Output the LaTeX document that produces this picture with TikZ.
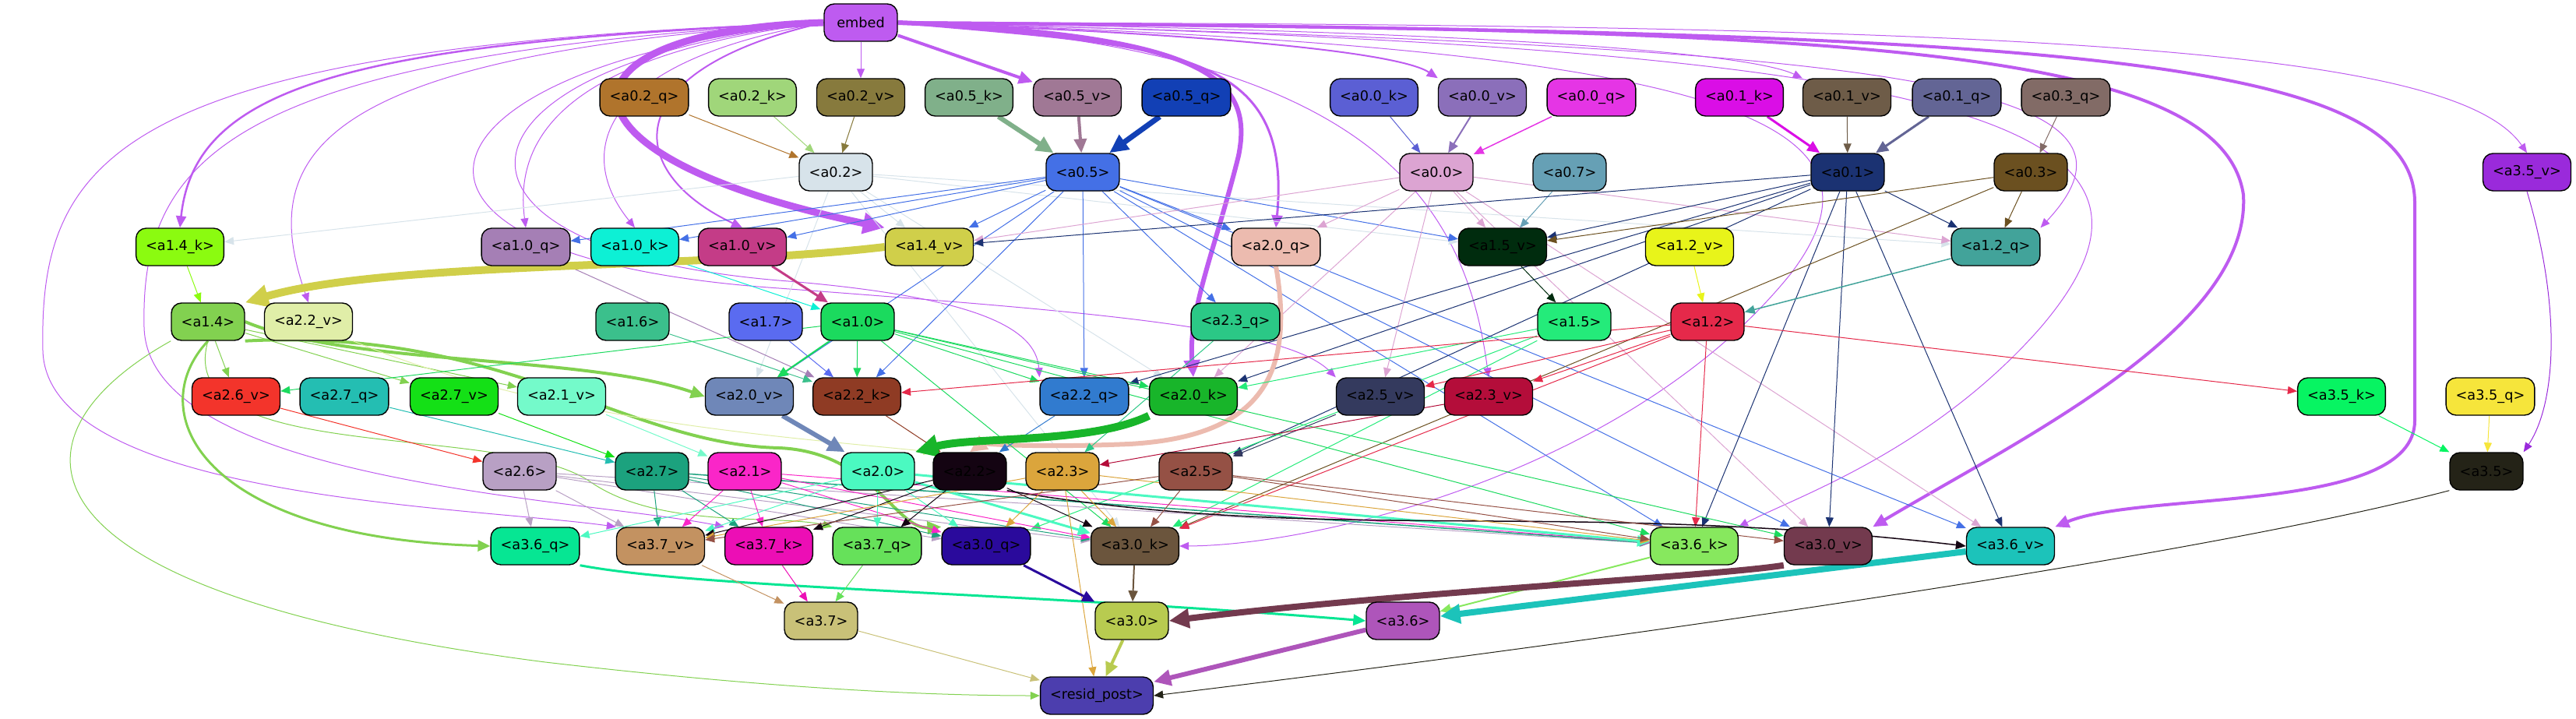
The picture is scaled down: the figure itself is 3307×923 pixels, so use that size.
\documentclass[tikz,border=0pt]{standalone}
\usepackage{fontspec}
\setmainfont{DejaVu Sans}
\usetikzlibrary{arrows.meta}

\pgfdeclarelayer{bg}
\pgfsetlayers{bg,main}

% node colours
\definecolor{cemb}{HTML}{BE5BF0}
\definecolor{ca02q}{HTML}{B0742C}
\definecolor{ca02k}{HTML}{A0D67A}
\definecolor{ca02v}{HTML}{877A3D}
\definecolor{ca05k}{HTML}{80B08A}
\definecolor{ca05v}{HTML}{A07895}
\definecolor{ca05q}{HTML}{1240B5}
\definecolor{ca00k}{HTML}{5B5FD4}
\definecolor{ca00v}{HTML}{8B6FBA}
\definecolor{ca00q}{HTML}{E535E5}
\definecolor{ca01k}{HTML}{DA0EE6}
\definecolor{ca01v}{HTML}{6E5C48}
\definecolor{ca01q}{HTML}{636595}
\definecolor{ca03q}{HTML}{826B66}
\definecolor{ca02}{HTML}{D7E3EA}
\definecolor{ca05}{HTML}{4470E6}
\definecolor{ca00}{HTML}{DCA4D2}
\definecolor{ca07}{HTML}{66A0B5}
\definecolor{ca01}{HTML}{1B3272}
\definecolor{ca03}{HTML}{6B5020}
\definecolor{ca35v}{HTML}{9A2ADB}
\definecolor{ca14k}{HTML}{8BFB10}
\definecolor{ca10q}{HTML}{A57FB5}
\definecolor{ca10k}{HTML}{0DF0D5}
\definecolor{ca10v}{HTML}{C43C87}
\definecolor{ca14v}{HTML}{D0CF4A}
\definecolor{ca20q}{HTML}{ECBBAF}
\definecolor{ca15v}{HTML}{002C0E}
\definecolor{ca12v}{HTML}{E8F41A}
\definecolor{ca12q}{HTML}{42A39A}
\definecolor{ca14}{HTML}{82D150}
\definecolor{ca22v}{HTML}{E0EEA8}
\definecolor{ca16}{HTML}{3BC08C}
\definecolor{ca17}{HTML}{5A6BF0}
\definecolor{ca10}{HTML}{1BDA5E}
\definecolor{ca23q}{HTML}{2BC886}
\definecolor{ca15}{HTML}{24EB7A}
\definecolor{ca12}{HTML}{E5294A}
\definecolor{ca26v}{HTML}{F3342B}
\definecolor{ca27q}{HTML}{24BEB2}
\definecolor{ca27v}{HTML}{14E016}
\definecolor{ca21v}{HTML}{74FACA}
\definecolor{ca20v}{HTML}{6F87B8}
\definecolor{ca22k}{HTML}{8F3B24}
\definecolor{ca22q}{HTML}{317BCF}
\definecolor{ca20k}{HTML}{18B52A}
\definecolor{ca25v}{HTML}{343A5E}
\definecolor{ca23v}{HTML}{B40D3A}
\definecolor{ca35k}{HTML}{07F462}
\definecolor{ca35q}{HTML}{F6E53B}
\definecolor{ca26}{HTML}{B8A0C4}
\definecolor{ca27}{HTML}{1CA27E}
\definecolor{ca21}{HTML}{FA26C8}
\definecolor{ca20}{HTML}{4BF9C1}
\definecolor{ca22}{HTML}{140412}
\definecolor{ca23}{HTML}{DBA53C}
\definecolor{ca25}{HTML}{955145}
\definecolor{ca35}{HTML}{242317}
\definecolor{ca36q}{HTML}{06E693}
\definecolor{ca37v}{HTML}{C39261}
\definecolor{ca37k}{HTML}{EC0EB5}
\definecolor{ca37q}{HTML}{66E15A}
\definecolor{ca30q}{HTML}{2A0A9C}
\definecolor{ca30k}{HTML}{6B553D}
\definecolor{ca36k}{HTML}{87E85E}
\definecolor{ca30v}{HTML}{733A4E}
\definecolor{ca36v}{HTML}{1CC3BA}
\definecolor{ca37}{HTML}{C9C178}
\definecolor{ca30}{HTML}{B8CB50}
\definecolor{ca36}{HTML}{AE55BA}
\definecolor{cres}{HTML}{4C3EAE}

\begin{document}
\begin{tikzpicture}[x=1pt,y=-1pt,
  box/.style={draw=black,line width=1.4pt,rounded corners=13pt,minimum width=94pt,
    minimum height=48pt,inner xsep=12.5pt,inner ysep=0pt,font=\fontsize{17.7}{20}\selectfont},
  e/.style={line width=#1,-{Triangle[length=10pt 2,width=8pt 2]}},
  e/.default=1pt]

\useasboundingbox (0,0) rectangle (3307,923);

%---------------- Nodes, rank by rank ----------------
% rank 0
\node[box,fill=cemb] (emb) at (1105,29) {embed};

% rank 1
\node[box,fill=ca02q] (a02q) at (827,125) {<a0.2\_q>};
\node[box,fill=ca02k] (a02k) at (966,125) {<a0.2\_k>};
\node[box,fill=ca02v] (a02v) at (1105,125) {<a0.2\_v>};
\node[box,fill=ca05k] (a05k) at (1244,125) {<a0.5\_k>};
\node[box,fill=ca05v] (a05v) at (1383,125) {<a0.5\_v>};
\node[box,fill=ca05q] (a05q) at (1523,125) {<a0.5\_q>};
\node[box,fill=ca00k] (a00k) at (1764,125) {<a0.0\_k>};
\node[box,fill=ca00v] (a00v) at (1903,125) {<a0.0\_v>};
\node[box,fill=ca00q] (a00q) at (2043,125) {<a0.0\_q>};
\node[box,fill=ca01k] (a01k) at (2233,125) {<a0.1\_k>};
\node[box,fill=ca01v] (a01v) at (2371,125) {<a0.1\_v>};
\node[box,fill=ca01q] (a01q) at (2512,125) {<a0.1\_q>};
\node[box,fill=ca03q] (a03q) at (2652,125) {<a0.3\_q>};

% rank 2
\node[box,fill=ca02] (a02) at (1073,221) {<a0.2>};
\node[box,fill=ca05] (a05) at (1390,221) {<a0.5>};
\node[box,fill=ca00] (a00) at (1844,221) {<a0.0>};
\node[box,fill=ca07] (a07) at (2015,221) {<a0.7>};
\node[box,fill=ca01] (a01) at (2372,221) {<a0.1>};
\node[box,fill=ca03] (a03) at (2607,221) {<a0.3>};
\node[box,fill=ca35v] (a35v) at (3244,221) {<a3.5\_v>};

% rank 3
\node[box,fill=ca14k] (a14k) at (231,317) {<a1.4\_k>};
\node[box,fill=ca10q] (a10q) at (675,317) {<a1.0\_q>};
\node[box,fill=ca10k] (a10k) at (815,317) {<a1.0\_k>};
\node[box,fill=ca10v] (a10v) at (953,317) {<a1.0\_v>};
\node[box,fill=ca14v] (a14v) at (1193,317) {<a1.4\_v>};
\node[box,fill=ca20q] (a20q) at (1638,317) {<a2.0\_q>};
\node[box,fill=ca15v] (a15v) at (1929,317) {<a1.5\_v>};
\node[box,fill=ca12v] (a12v) at (2169,317) {<a1.2\_v>};
\node[box,fill=ca12q] (a12q) at (2562,317) {<a1.2\_q>};

% rank 4
\node[box,fill=ca14] (a14) at (267,413) {<a1.4>};
\node[box,fill=ca22v] (a22v) at (396,413) {<a2.2\_v>};
\node[box,fill=ca16] (a16) at (812,413) {<a1.6>};
\node[box,fill=ca17] (a17) at (983,413) {<a1.7>};
\node[box,fill=ca10] (a10) at (1101,413) {<a1.0>};
\node[box,fill=ca23q] (a23q) at (1586,413) {<a2.3\_q>};
\node[box,fill=ca15] (a15) at (2021,413) {<a1.5>};
\node[box,fill=ca12] (a12) at (2192,413) {<a1.2>};

% rank 5
\node[box,fill=ca26v] (a26v) at (303,509) {<a2.6\_v>};
\node[box,fill=ca27q] (a27q) at (442,509) {<a2.7\_q>};
\node[box,fill=ca27v] (a27v) at (583,509) {<a2.7\_v>};
\node[box,fill=ca21v] (a21v) at (721,509) {<a2.1\_v>};
\node[box,fill=ca20v] (a20v) at (962,509) {<a2.0\_v>};
\node[box,fill=ca22k] (a22k) at (1100,509) {<a2.2\_k>};
\node[box,fill=ca22q] (a22q) at (1392,509) {<a2.2\_q>};
\node[box,fill=ca20k] (a20k) at (1532,509) {<a2.0\_k>};
\node[box,fill=ca25v] (a25v) at (1772,509) {<a2.5\_v>};
\node[box,fill=ca23v] (a23v) at (1911,509) {<a2.3\_v>};
\node[box,fill=ca35k] (a35k) at (3006,509) {<a3.5\_k>};
\node[box,fill=ca35q] (a35q) at (3197,509) {<a3.5\_q>};

% rank 6
\node[box,fill=ca26] (a26) at (667,605) {<a2.6>};
\node[box,fill=ca27] (a27) at (837,605) {<a2.7>};
\node[box,fill=ca21] (a21) at (956,605) {<a2.1>};
\node[box,fill=ca20] (a20) at (1127,605) {<a2.0>};
\node[box,fill=ca22] (a22) at (1245,605) {<a2.2>};
\node[box,fill=ca23] (a23) at (1364,605) {<a2.3>};
\node[box,fill=ca25] (a25) at (1535,605) {<a2.5>};
\node[box,fill=ca35] (a35) at (3192,605) {<a3.5>};

% rank 7
\node[box,fill=ca36q] (a36q) at (687,701) {<a3.6\_q>};
\node[box,fill=ca37v] (a37v) at (848,701) {<a3.7\_v>};
\node[box,fill=ca37k] (a37k) at (987,701) {<a3.7\_k>};
\node[box,fill=ca37q] (a37q) at (1126,701) {<a3.7\_q>};
\node[box,fill=ca30q] (a30q) at (1266,701) {<a3.0\_q>};
\node[box,fill=ca30k] (a30k) at (1457,701) {<a3.0\_k>};
\node[box,fill=ca36k] (a36k) at (2175,701) {<a3.6\_k>};
\node[box,fill=ca30v] (a30v) at (2347,701) {<a3.0\_v>};
\node[box,fill=ca36v] (a36v) at (2581,701) {<a3.6\_v>};

% rank 8 and 9
\node[box,fill=ca37] (a37) at (1054,797) {<a3.7>};
\node[box,fill=ca30] (a30) at (1453,797) {<a3.0>};
\node[box,fill=ca36] (a36) at (1801,797) {<a3.6>};
\node[box,fill=cres] (resid) at (1408,893) {<resid\_post>};

%---------------- Edges, behind the nodes ----------------
\begin{pgfonlayer}{bg}
% from embed
\draw[e,cemb] (emb) -- (a02v);
\draw[e=4pt,cemb] (emb) -- (a05v);
\draw[e=2pt,cemb] (emb.east) .. controls (1600,45) and (1800,70) .. (a00v.north west);
\draw[e,cemb] (emb.east) .. controls (1950,40) and (2250,70) .. (a01v.north west);
\draw[e=2.5pt,cemb] (emb.west) .. controls (450,55) and (250,110) .. (a14k.north);
\draw[e=9pt,cemb] (emb.west) .. controls (700,40) and (690,200) .. (a14v.north west);
\draw[e=3pt,cemb] (emb.east) .. controls (1500,60) and (1660,60) .. (a20q.north);
\draw[e=6pt,cemb] (emb.east) .. controls (1550,45) and (1610,100) .. (1590,200)
  .. controls (1560,320) and (1525,400) .. (a20k.north);
\draw[e=4pt,cemb] (emb.east) .. controls (2300,38) and (2850,48) .. (2880,250)
  .. controls (2890,420) and (2600,560) .. (a30v.north east);
\draw[e=4pt,cemb] (emb.east) .. controls (2600,40) and (3100,65) .. (3100,260) -- (3100,540)
  .. controls (3100,660) and (2750,630) .. (a36v.north east);
\draw[e,cemb] (emb.east) .. controls (2600,30) and (3150,60) .. (a35v.north);
\draw[e,cemb] (emb.east) .. controls (2400,60) and (2800,100) .. (a12q.north east);
\draw[e,cemb] (emb.east) .. controls (2500,60) and (2850,150) .. (2620,420)
  .. controls (2480,580) and (2300,640) .. (a36k.north east);
\draw[e,cemb] (emb.east) .. controls (2200,60) and (2450,150) .. (2300,350)
  .. controls (2100,600) and (1700,700) .. (a30k.east);
\draw[e,cemb] (emb.east) .. controls (1750,60) and (1880,250) .. (a23v.north);
\draw[e,cemb] (emb.west) .. controls (520,80) and (420,330) .. (1000,370)
  .. controls (1400,400) and (1650,420) .. (a25v.north west);
\draw[e,cemb] (emb.west) .. controls (560,80) and (520,320) .. (1000,360)
  .. controls (1250,380) and (1330,420) .. (a22q.north west);
\draw[e,cemb] (emb.west) .. controls (720,70) and (660,180) .. (a10q.north);
\draw[e,cemb] (emb.west) .. controls (760,80) and (740,200) .. (a10k.north);
\draw[e=2pt,cemb] (emb.west) .. controls (790,90) and (800,220) .. (a10v.north);
\draw[e,cemb] (emb.west) .. controls (400,70) and (330,200) .. (a22v.north);
\draw[e,cemb] (emb.west) .. controls (150,60) and (50,200) .. (55,450)
  .. controls (60,640) and (600,650) .. (a37v.north west);
\draw[e,cemb] (emb.west) .. controls (300,70) and (180,200) .. (185,420)
  .. controls (190,620) and (750,640) .. (a37k.north west);

% rank 1 -> rank 2
\draw[e,ca02q] (a02q) -- (a02);
\draw[e,ca02k] (a02k) -- (a02);
\draw[e,ca02v] (a02v) -- (a02);
\draw[e=6pt,ca05k] (a05k) -- (a05);
\draw[e=4pt,ca05v] (a05v) -- (a05);
\draw[e=7pt,ca05q] (a05q) -- (a05);
\draw[e,ca00k] (a00k) -- (a00);
\draw[e=2pt,ca00v] (a00v) -- (a00);
\draw[e=1.5pt,ca00q] (a00q) -- (a00);
\draw[e=3pt,ca01k] (a01k) -- (a01);
\draw[e,ca01v] (a01v) -- (a01);
\draw[e=3pt,ca01q] (a01q) -- (a01);
\draw[e,ca03q] (a03q) -- (a03);

% rank 2 fan-out
\foreach \t in {a14k,a14v,a15v,a12q,a20v,a20k,a30k} \draw[e,ca02] (a02) -- (\t);
\foreach \t in {a10q,a10k,a10v,a14v,a20q,a15v,a23q,a22k,a22q,a20v,a30v,a36k,a36v}
  \draw[e,ca05] (a05) -- (\t);
\foreach \t in {a14v,a20q,a15v,a12q,a25v,a20k,a30v,a36v} \draw[e,ca00] (a00) -- (\t);
\draw[e,ca07] (a07) -- (a15v);
\foreach \t in {a14v,a15v,a12q,a20k,a22q,a25,a36k,a30v,a36v} \draw[e,ca01] (a01) -- (\t);
\foreach \t in {a15v,a12q,a30k} \draw[e,ca03] (a03) -- (\t);
\draw[e,ca35v] (a35v.south) .. controls (3290,400) and (3280,520) .. (a35.north east);

% rank 3
\draw[e,ca14k] (a14k) -- (a14);
\draw[e,ca10q] (a10q) -- (a22k);
\draw[e,ca10k] (a10k) -- (a10);
\draw[e=3pt,ca10v] (a10v) -- (a10);
\draw[e=10pt,ca14v] (a14v.west) .. controls (900,345) and (500,335) .. (a14.north east);
\draw[e=6pt,ca20q] (a20q.south) .. controls (1660,470) and (1630,560) .. (1450,570)
  .. controls (1330,575) and (1260,570) .. (a22.north);
\draw[e,ca15v] (a15v) -- (a15);
\draw[e,ca12v] (a12v) -- (a12);
\draw[e=1.5pt,ca12q] (a12q) -- (a12);

% rank 4
\foreach \t in {a26v,a27v,a21v} \draw[e,ca14] (a14) -- (\t);
\draw[e=4pt,ca14] (a14.east) .. controls (450,470) and (750,455) .. (a20v.west);
\draw[e=3pt,ca14] (a14.south) .. controls (180,530) and (260,690) .. (a36q.west);
\draw[e=4pt,ca14] (a14.south east) .. controls (650,420) and (800,570) .. (1000,575)
  .. controls (1120,580) and (1150,680) .. (a30q.north west);
\draw[e,ca14] (a14.south west) .. controls (0,560) and (0,760) .. (700,850)
  .. controls (1000,885) and (1200,893) .. (resid.west);
\draw[e,ca14] (a14.south) .. controls (220,600) and (650,540) .. (760,620)
  .. controls (850,680) and (1000,660) .. (a37q.north west);
\draw[e,ca22v] (a22v.south east) .. controls (700,540) and (1000,560) .. (a22.north west);
\draw[e,ca16] (a16) -- (a22k);
\draw[e,ca17] (a17) -- (a22k);
\foreach \t/\w in {a20v/2pt,a22k/1pt,a26v/1pt,a22q/1pt,a20k/1pt,a30k/1pt,a36k/1pt,a30v/1pt}
  \draw[e=\w,ca10] (a10) -- (\t);
\draw[e,ca23q] (a23q) -- (a23);
\foreach \t in {a20k,a30q,a30k} \draw[e,ca15] (a15) -- (\t);
\foreach \t in {a22k,a25v,a23v,a36k,a35k,a30k} \draw[e,ca12] (a12) -- (\t);

% rank 5
\draw[e,ca26v] (a26v) -- (a26);
\draw[e,ca27q] (a27q) -- (a27);
\draw[e,ca27v] (a27v) -- (a27);
\draw[e,ca21v] (a21v) -- (a21);
\draw[e=6pt,ca20v] (a20v) -- (a20);
\draw[e,ca22k] (a22k) -- (a22);
\draw[e,ca22q] (a22q) -- (a22);
\draw[e=10pt,ca20k] (a20k.south west) .. controls (1400,570) and (1250,560) .. (a20.north east);
\draw[e,ca25v] (a25v) -- (a25);
\draw[e,ca23v] (a23v) -- (a23);
\draw[e,ca35k] (a35k) -- (a35);
\draw[e,ca35q] (a35q) -- (a35);

% rank 6
\foreach \t in {a36q,a37v,a30q,a30k,a36k} \draw[e,ca26] (a26) -- (\t);
\foreach \t/\w in {a37v/1pt,a37k/1pt,a30q/1pt,a30k/1pt,a36k/1.5pt} \draw[e=\w,ca27] (a27) -- (\t);
\foreach \t in {a37v,a37k,a30q,a30k,a36k} \draw[e,ca21] (a21) -- (\t);
\foreach \t/\w in {a36q/1pt,a37v/1pt,a37q/1pt,a30q/1pt,a30k/3pt,a36k/3pt}
  \draw[e=\w,ca20] (a20) -- (\t);
\foreach \t in {a37v,a37k,a37q,a30k} \draw[e,ca22] (a22) -- (\t);
\draw[e=1.5pt,ca22] (a22.south east) .. controls (1700,700) and (2000,640) .. (a36v.west);
\foreach \t in {a37v,a30q,a30k,a36k,resid} \draw[e,ca23] (a23) -- (\t);
\foreach \t in {a37v,a30k,a36k,a30v} \draw[e,ca25] (a25) -- (\t);
\draw[e,ca35] (a35.south west) .. controls (2800,720) and (2000,830) .. (resid.east);

% rank 7
\draw[e=3pt,ca36q] (a36q.south east) .. controls (900,755) and (1300,760) .. (a36.west);
\draw[e,ca37v] (a37v) -- (a37);
\draw[e,ca37k] (a37k) -- (a37);
\draw[e,ca37q] (a37q) -- (a37);
\draw[e=3pt,ca30q] (a30q) -- (a30);
\draw[e=2pt,ca30k] (a30k) -- (a30);
\draw[e=2pt,ca36k] (a36k) -- (a36);
\draw[e=8pt,ca30v] (a30v.south west) .. controls (2200,740) and (1800,760) .. (a30.east);
\draw[e=8pt,ca36v] (a36v) -- (a36);

% rank 8
\draw[e,ca37] (a37) -- (resid);
\draw[e=4pt,ca30] (a30) -- (resid);
\draw[e=6pt,ca36] (a36) -- (resid);
\end{pgfonlayer}

\end{tikzpicture}
\end{document}
